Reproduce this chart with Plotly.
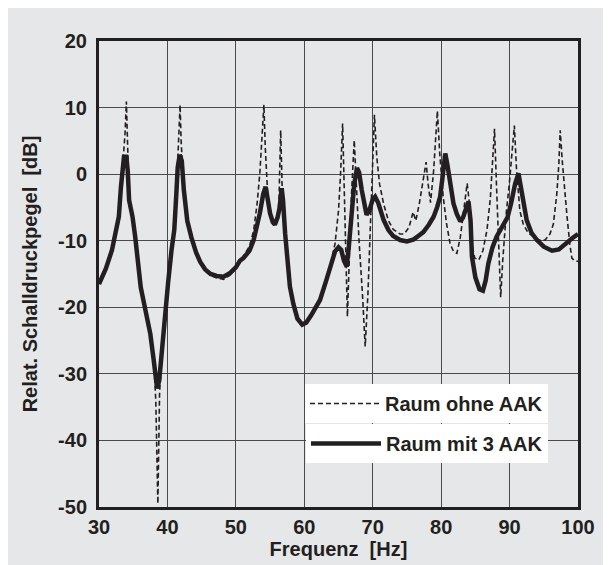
import plotly.graph_objects as go

# Raum mit 3 AAK (solid)
freq_mit = [30, 31, 31.9, 32.5, 32.9, 33.2, 33.4, 33.65, 34.0, 34.2, 34.4, 34.9, 35.3, 35.6, 36.1, 36.8, 37.5, 38.0,
            38.5, 38.8, 39.2, 39.6, 40.1, 40.6, 41.0, 41.3, 41.5, 41.8, 42.1, 42.4, 42.9, 43.5, 44.2, 44.8, 45.5, 46.3,
            47.2, 48.2, 49.1, 50.0, 50.6, 51.1, 52.0, 52.6, 53.1, 53.5, 54.0, 54.35, 54.7, 55.0, 55.4, 55.7, 56.1, 56.4,
            56.7, 56.9, 57.2, 57.6, 57.9, 58.4, 59.0, 59.7, 60.3, 61.0, 62.3, 63.2, 64.0, 64.5, 65.0, 65.4, 65.8, 66.2,
            66.5, 66.9, 67.3, 67.7, 68.0, 68.4, 68.8, 69.1, 69.5, 70.0, 70.35, 70.8, 71.6, 72.3, 73.0, 74.0, 75.0, 76.0,
            76.9, 77.4, 78.2, 78.9, 79.4, 79.85, 80.2, 80.6, 80.9, 81.3, 81.8, 82.3, 82.8, 83.2, 83.6, 84.0, 84.3, 84.5,
            85.0, 85.6, 86.1, 86.5, 86.9, 87.5, 88.1, 88.6, 89.1, 89.7, 90.2, 90.8, 91.3, 91.7, 92.1, 92.5, 93.2, 94.0,
            95.0, 96.2, 97.2, 98.4, 99.2, 100]
level_mit = [-16.5, -14.2, -11.4, -8.8, -6.4, -2.0, 0.5, 2.6, 2.6, 0.5, -3.9, -6.4, -9.5, -12.4, -17.0, -20.5, -24.0, -28.0,
             -32.2, -31.0, -26.4, -21.0, -16.3, -11.4, -8.4, -3.0, 1.0, 2.9, 2.0, -2.4, -7.0, -9.5, -11.8, -13.2, -14.3, -15.0,
             -15.3, -15.4, -14.9, -14.0, -13.0, -12.6, -11.5, -9.9, -8.0, -5.9, -3.0, -1.9, -4.0, -5.9, -7.2, -7.6, -6.5, -5.0,
             -2.1, -4.0, -8.9, -14.0, -16.9, -19.5, -21.7, -22.6, -22.3, -21.2, -18.9, -16.0, -13.5, -11.6, -11.0, -11.4, -13.0, -13.9,
             -11.0, -6.4, -1.5, 0.9, 0.3, -2.4, -5.0, -6.1, -5.5, -3.8, -3.4, -4.3, -6.9, -8.4, -9.3, -9.9, -10.1, -9.8,
             -9.1, -8.7, -7.6, -6.4, -5.0, -3.4, -0.5, 3.1, 1.5, -1.5, -4.4, -6.0, -7.1, -6.5, -5.0, -4.1, -7.0, -12.4,
             -15.5, -17.3, -17.5, -16.0, -13.4, -11.0, -9.4, -8.5, -7.9, -6.5, -4.5, -1.5, 0.1, -2.0, -4.5, -6.9, -8.8, -9.9,
             -10.9, -11.5, -11.3, -10.2, -9.6, -9.0]

# Raum ohne AAK (dashed)
freq_ohne = [30, 31, 31.9, 32.5, 32.9, 33.2, 33.5, 33.8, 34.0, 34.2, 34.4, 34.9, 35.3, 35.6, 36.1, 36.8, 37.5, 38.0,
             38.3, 38.6, 38.85, 39.2, 39.6, 40.1, 40.6, 41.0, 41.3, 41.5, 41.7, 41.85, 42.0, 42.2, 42.4, 42.9, 43.5, 44.2,
             44.8, 45.5, 46.3, 47.2, 48.2, 49.1, 50.0, 50.6, 51.1, 52.0, 52.6, 53.1, 53.5, 53.8, 54.1, 54.3, 54.5, 54.7,
             55.0, 55.4, 55.7, 56.1, 56.3, 56.55, 56.75, 57.0, 57.2, 57.6, 57.9, 58.4, 59.0, 59.7, 60.3, 61.0, 62.3, 63.2,
             64.0, 64.5, 65.0, 65.3, 65.6, 65.8, 66.0, 66.3, 66.6, 66.9, 67.3, 67.6, 68.0, 68.5, 68.9, 69.3, 69.7, 70.0,
             70.25, 70.6, 71.0, 71.6, 72.3, 73.0, 74.0, 74.6, 75.3, 75.9, 76.3, 76.8, 77.4, 77.8, 78.1, 78.45, 78.9, 79.2,
             79.45, 79.8, 80.3, 80.8, 81.3, 81.8, 82.3, 82.8, 83.3, 83.8, 84.2, 84.5, 84.9, 85.5, 86.1, 86.7, 87.2, 87.5,
             87.8, 88.1, 88.4, 88.7, 89.0, 89.5, 90.0, 90.4, 90.7, 91.0, 91.5, 92.0, 92.7, 93.5, 94.3, 95.2, 95.9, 96.4,
             96.9, 97.2, 97.4, 97.7, 98.0, 98.4, 98.8, 99.1, 99.5, 100]
level_ohne = [-16.5, -14.2, -11.4, -8.8, -6.4, -2.0, 2.0, 6.0, 10.9, 4.0, -3.5, -6.4, -9.5, -12.4, -17.0, -20.5, -24.0, -28.0,
              -34.0, -49.5, -33.0, -26.4, -21.0, -16.3, -11.4, -8.4, -3.0, 1.5, 6.0, 10.4, 5.0, 1.0, -2.4, -7.0, -9.5, -11.8,
              -13.3, -14.5, -15.2, -15.6, -15.8, -15.2, -14.2, -13.2, -12.4, -10.8, -8.5, -4.5, 0.1, 5.0, 10.4, 4.0, -1.4, -4.0,
              -5.9, -7.2, -7.6, -6.5, -4.0, 6.6, -1.5, -5.5, -8.9, -14.0, -16.9, -19.5, -21.7, -22.6, -22.3, -21.2, -18.9, -16.0,
              -12.8, -10.4, -5.5, 0.0, 7.6, -2.0, -12.0, -21.4, -12.0, -3.0, 5.1, -2.0, -10.0, -18.0, -25.9, -18.0, -6.0, 2.0,
              8.9, 2.5, -1.5, -4.5, -7.0, -8.3, -9.0, -9.0, -8.0, -5.7, -7.0, -4.5, -1.0, 1.8, -1.5, -4.3, 0.5, 5.0,
              9.5, 3.0, -3.4, -7.5, -10.4, -11.6, -11.9, -9.5, -5.5, -1.4, -5.0, -10.5, -12.6, -12.9, -11.5, -8.4, -3.5, 1.0,
              6.8, -2.0, -10.0, -18.5, -13.0, -6.0, -1.0, 3.5, 7.3, 1.0, -5.5, -7.5, -8.8, -9.4, -9.9, -9.9, -9.0, -7.5,
              -3.0, 1.5, 6.6, 2.0, -2.0, -6.4, -10.5, -12.6, -13.0, -13.1]

x_ticks = [30, 40, 50, 60, 70, 80, 90, 100]
y_ticks = [20, 10, 0, -10, -20, -30, -40, -50]

INK = "#231f20"
BG = "#e6e7e9"
FONT = "Liberation Sans"
FS = 20

fig = go.Figure()
fig.add_trace(go.Scatter(x=freq_ohne, y=level_ohne, mode="lines", name="Raum ohne AAK",
                         line=dict(color=INK, width=1.6, dash="5px,3px"), legend="legend", showlegend=True))
fig.add_trace(go.Scatter(x=freq_mit, y=level_mit, mode="lines", name="Raum mit 3 AAK",
                         line=dict(color=INK, width=4.5), legend="legend2", showlegend=True))

# page body has an 8px margin: plot area should sit at x 99..578, y 41..507 on the page
OFF = 8
L, T = 99 - OFF, 41 - OFF
pw, ph = 479, 466
W, H = 611 - OFF, 565 - OFF
R, B = W - L - pw, H - T - ph

font = dict(family=FONT, size=FS, color=INK, weight="bold")
axis_common = dict(showgrid=True, gridcolor="#4a4a4a", gridwidth=1.2, zeroline=False,
                   showline=True, linecolor=INK, linewidth=3, mirror=True,
                   tickfont=font)

fig.update_layout(
    width=W, height=H,
    margin=dict(l=L, r=R, t=T, b=B, autoexpand=False),
    paper_bgcolor=BG, plot_bgcolor=BG,
    showlegend=True,
    xaxis=dict(range=[30, 100], tickvals=x_ticks, ticktext=[str(v) for v in x_ticks],
               ticks="", title=dict(text="Frequenz\u00a0\u00a0[Hz]", font=font, standoff=4),
               **axis_common),
    yaxis=dict(range=[-50, 20], tickvals=y_ticks, ticktext=[str(v) for v in y_ticks],
               ticks="outside", ticklen=5, tickcolor=BG,
               title=dict(text="Relat. Schalldruckpegel\u00a0\u00a0[dB]", font=font, standoff=16),
               **axis_common),
    legend=dict(x=(305 - 99) / pw, y=1 - (384 - 41) / ph, xanchor="left", yanchor="top",
                bgcolor="white", borderwidth=0, itemwidth=70, font=font),
    legend2=dict(x=(306 - 99) / pw, y=1 - (424 - 41) / ph, xanchor="left", yanchor="top",
                 bgcolor="white", borderwidth=0, itemwidth=70, font=font),
)

fig.write_html("out.html")
